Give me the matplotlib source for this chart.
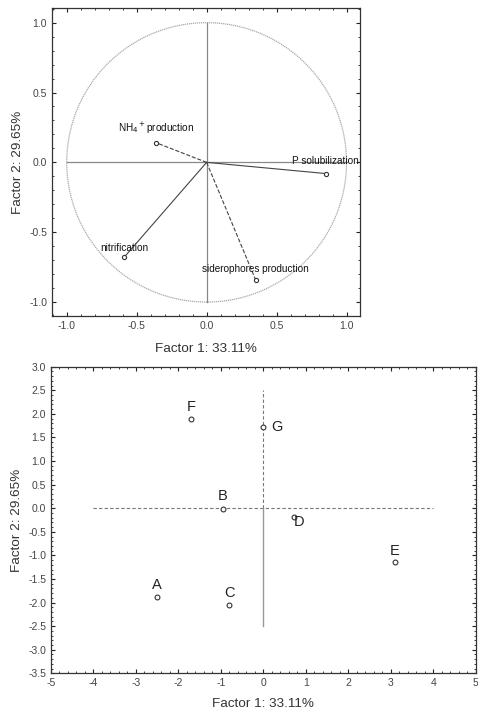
import numpy as np
import matplotlib.pyplot as plt
from matplotlib.ticker import MultipleLocator

plt.rcParams['font.family'] = ['Liberation Sans', 'DejaVu Sans']

# loadings (factor 1, factor 2)
var_names = ['NH$_4$$^+$production', 'P solubilization', 'nitrification', 'siderophores production']
load_f1 = [-0.36, 0.85, -0.59, 0.35]
load_f2 = [0.14, -0.08, -0.68, -0.84]
load_styles = ['--', '-', '-', '--']

# scores of cases
case_names = ['A', 'B', 'C', 'D', 'E', 'F', 'G']
score_f1 = [-2.5, -0.95, -0.8, 0.72, 3.1, -1.7, 0.0]
score_f2 = [-1.88, -0.02, -2.05, -0.18, -1.15, 1.9, 1.73]

xlab = 'Factor 1: 33.11%'
ylab = 'Factor 2: 29.65%'

fig = plt.figure(figsize=(4.78, 7.15), dpi=100)
txt = '#333333'
grey = '#888888'

def style_axes(ax):
    ax.tick_params(which='both', direction='in', top=True, right=True,
                   labelsize=7.5, colors='#222222', labelcolor='#444444')
    ax.tick_params(which='major', length=3)
    ax.tick_params(which='minor', length=1.5)
    for s in ax.spines.values():
        s.set_color('#333333')
        s.set_linewidth(0.9)

# ---- top: correlation circle
ax1 = fig.add_axes([0.1088, 0.558, 0.644, 0.4308])
t = np.linspace(0, 2 * np.pi, 400)
ax1.plot(np.cos(t), np.sin(t), color='#aaaaaa', lw=0.9, ls=(0, (1, 0.6)))
ax1.plot([-1, 1], [0, 0], color=grey, lw=0.9)
ax1.plot([0, 0], [-1, 1], color=grey, lw=0.9)
for x, y, ls in zip(load_f1, load_f2, load_styles):
    ax1.plot([0, x], [0, y], color='#444444', lw=0.8, ls=ls)
ax1.scatter(load_f1, load_f2, s=9, facecolor='white', edgecolor='#333333', lw=0.8, zorder=3)
# label placement: (dx, dy, ha)
offs = [(0.0, 0.05, 'center'), (-0.24, 0.055, 'left'), (0.0, 0.03, 'center'), (0.0, 0.04, 'center')]
for name, x, y, (dx, dy, ha) in zip(var_names, load_f1, load_f2, offs):
    ax1.text(x + dx, y + dy, name, fontsize=7.2, color='#111111', ha=ha, va='bottom',
             clip_on=True)
ax1.set_xlim(-1.105, 1.095)
ax1.set_ylim(-1.1, 1.105)
ax1.xaxis.set_major_locator(MultipleLocator(0.5))
ax1.yaxis.set_major_locator(MultipleLocator(0.5))
ax1.xaxis.set_minor_locator(MultipleLocator(0.1))
ax1.yaxis.set_minor_locator(MultipleLocator(0.1))
ax1.xaxis.set_major_formatter(lambda v, p: f'{v:.1f}')
ax1.yaxis.set_major_formatter(lambda v, p: f'{v:.1f}')
ax1.set_xlabel(xlab, fontsize=9.7, color=txt, labelpad=9)
ax1.set_ylabel(ylab, fontsize=9.7, color=txt, labelpad=4)
style_axes(ax1)

# ---- bottom: case scores
ax2 = fig.add_axes([0.1067, 0.0583, 0.8885, 0.4288])
ax2.plot([-4, 4], [0, 0], color='#777777', lw=0.8, ls='--', dashes=(3, 2))
ax2.plot([0, 0], [0, 2.5], color='#777777', lw=0.8, ls='--', dashes=(3, 2))
ax2.plot([0, 0], [-2.5, 0], color='#999999', lw=1.0)
ax2.scatter(score_f1, score_f2, s=12, facecolor='white', edgecolor='#333333', lw=0.8, zorder=3)
lab_off = {'A': (0, 0.25, 'center'), 'B': (0, 0.27, 'center'),
           'C': (0, 0.25, 'center'), 'D': (0.12, -0.12, 'center'),
           'E': (0, 0.25, 'center'), 'F': (0, 0.25, 'center'),
           'G': (0.19, 0.0, 'left')}
for name, x, y in zip(case_names, score_f1, score_f2):
    dx, dy, ha = lab_off[name]
    ax2.text(x + dx, y + dy, name, fontsize=10.5, color='#222222', ha=ha, va='center')
ax2.set_xlim(-5, 5)
ax2.set_ylim(-3.5, 3.0)
ax2.xaxis.set_major_locator(MultipleLocator(1))
ax2.yaxis.set_major_locator(MultipleLocator(0.5))
ax2.xaxis.set_minor_locator(MultipleLocator(0.2))
ax2.yaxis.set_minor_locator(MultipleLocator(0.1))
ax2.yaxis.set_major_formatter(lambda v, p: f'{v:.1f}')
ax2.xaxis.set_major_formatter(lambda v, p: f'{v:.0f}')
ax2.set_xlabel(xlab, fontsize=9.7, color=txt, labelpad=7)
ax2.set_ylabel(ylab, fontsize=9.7, color=txt, labelpad=4)
style_axes(ax2)

fig.savefig('out.png', dpi=100)
